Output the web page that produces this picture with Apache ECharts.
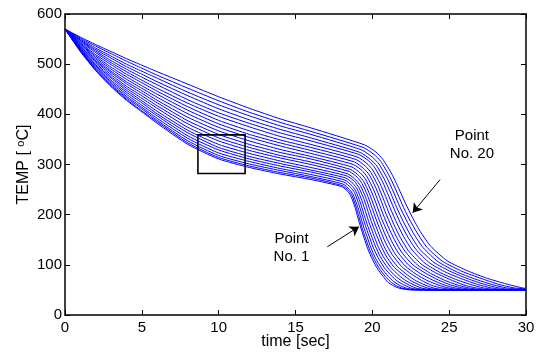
<!DOCTYPE html>
<html>
<head>
<meta charset="utf-8">
<script src="https://cdn.jsdelivr.net/npm/echarts@6/dist/echarts.min.js"></script>
<style>html,body{margin:0;padding:0;background:#fff;}#c{width:539px;height:355px;}</style>
</head>
<body>
<div id="c"></div>
<script>
// ---- data ----
const timeGrid = [0,1,2,3,4,5,6,8,10,12,14,16];
const earlyTemps = [
  [570,525,487,455,428,405,382,340,311,294,281,270],
  [570,526,488,457,430,407,385,343,314,297,284,273],
  [570,527,490,459,433,411,388,347,318,301,288,276],
  [570,528,492,462,436,414,392,352,323,306,292,280],
  [570,529,494,465,440,418,397,357,329,311,297,285],
  [570,531,497,468,444,423,401,363,334,316,302,289],
  [570,532,499,472,448,427,406,368,340,322,307,294],
  [570,533,502,475,452,432,412,374,347,328,313,300],
  [570,535,505,479,456,437,417,381,353,334,318,305],
  [570,536,507,483,461,442,423,387,360,340,324,311],
  [570,538,510,486,465,447,428,394,367,347,330,316],
  [570,540,513,490,470,452,434,401,374,354,337,322],
  [570,541,516,494,475,457,440,408,381,360,343,328],
  [570,543,519,499,480,463,446,415,388,367,349,334],
  [570,545,523,503,485,468,452,422,396,375,356,340],
  [570,547,526,507,490,474,459,429,403,382,363,347],
  [570,548,529,512,495,480,465,437,411,389,370,353],
  [570,550,532,516,500,486,472,444,419,397,377,360],
  [570,552,536,521,506,492,478,452,427,404,384,366],
  [570,554,539,525,511,498,485,460,435,412,391,373]
];
const kneeTimes = [18.00,18.04,18.09,18.15,18.21,18.28,18.36,18.43,18.51,18.59,18.67,18.76,18.84,18.93,19.02,19.12,19.21,19.31,19.40,19.50];
const kneeTemps = [256,258,261,265,269,273,277,281,286,290,295,300,305,310,315,320,324,329,334,339];
const dropTimes = [
  [18.41,18.63,18.87,19.06,19.25,19.47,19.70,19.98,20.36,20.70,20.99,21.39,21.79,22.50],
  [18.46,18.68,18.93,19.13,19.32,19.55,19.79,20.08,20.47,20.84,21.16,21.58,21.99,22.72],
  [18.52,18.75,19.01,19.22,19.42,19.66,19.91,20.21,20.63,21.03,21.38,21.83,22.27,23.01],
  [18.59,18.84,19.11,19.32,19.54,19.78,20.04,20.36,20.81,21.25,21.64,22.12,22.59,23.35],
  [18.67,18.92,19.21,19.43,19.66,19.91,20.19,20.52,21.00,21.48,21.91,22.43,22.92,23.71],
  [18.75,19.02,19.32,19.56,19.79,20.06,20.34,20.70,21.20,21.73,22.21,22.77,23.29,24.10],
  [18.85,19.12,19.44,19.69,19.94,20.21,20.52,20.89,21.43,22.01,22.53,23.13,23.68,24.52],
  [18.93,19.22,19.56,19.82,20.08,20.37,20.68,21.08,21.65,22.28,22.86,23.49,24.08,24.94],
  [19.03,19.33,19.68,19.96,20.23,20.53,20.86,21.28,21.89,22.57,23.20,23.87,24.49,25.38],
  [19.12,19.44,19.81,20.10,20.39,20.70,21.05,21.48,22.13,22.86,23.55,24.27,24.92,25.84],
  [19.22,19.55,19.94,20.25,20.54,20.87,21.24,21.69,22.38,23.16,23.90,24.67,25.36,26.31],
  [19.33,19.67,20.08,20.40,20.71,21.05,21.44,21.91,22.64,23.48,24.28,25.09,25.82,26.80],
  [19.43,19.79,20.22,20.55,20.87,21.23,21.63,22.13,22.89,23.79,24.65,25.51,26.27,27.28],
  [19.54,19.91,20.36,20.71,21.05,21.41,21.83,22.35,23.16,24.12,25.03,25.94,26.74,27.78],
  [19.65,20.03,20.50,20.87,21.22,21.60,22.04,22.58,23.43,24.45,25.42,26.38,27.22,28.29],
  [19.77,20.17,20.66,21.04,21.41,21.80,22.26,22.83,23.72,24.80,25.83,26.84,27.72,28.83],
  [19.88,20.29,20.81,21.21,21.59,22.00,22.47,23.06,24.00,25.14,26.24,27.30,28.22,29.36],
  [19.99,20.43,20.96,21.38,21.77,22.20,22.69,23.31,24.29,25.49,26.65,27.76,28.73],
  [20.11,20.55,21.11,21.54,21.95,22.39,22.91,23.55,24.57,25.84,27.07,28.23,29.24],
  [20.23,20.69,21.27,21.72,22.15,22.60,23.13,23.80,24.87,26.20,27.49,28.71,29.76]
];
const dropTemps = [
  [246,235,215,194,174,153,132,112,91,77,66,58,53,50],
  [248,238,217,196,175,154,133,113,92,77,67,58,53,50],
  [250,240,219,198,177,156,134,113,92,77,67,58,53,50],
  [254,244,222,201,179,158,136,115,93,78,67,59,53,50],
  [258,247,225,203,181,160,138,116,94,78,68,59,53,50],
  [262,251,228,206,184,162,139,117,95,79,68,59,53,50],
  [266,254,232,209,186,164,141,118,95,80,68,59,53,50],
  [269,258,235,212,189,166,142,119,96,80,68,59,53,50],
  [274,262,239,215,192,168,144,121,97,81,69,59,54,50],
  [278,266,242,218,194,170,146,122,98,81,69,60,54,50],
  [283,271,246,222,197,173,148,124,99,82,70,60,54,50],
  [288,275,250,225,200,175,150,125,100,83,70,60,54,50],
  [292,280,254,229,203,178,152,127,101,83,70,60,54,50],
  [297,284,258,232,206,180,154,128,102,84,71,60,54,50],
  [302,289,262,236,209,183,156,130,103,84,71,61,54,50],
  [307,293,266,239,212,185,158,131,104,85,72,61,54,50],
  [310,297,269,242,214,187,160,132,105,86,72,61,54,50],
  [315,301,273,245,217,190,162,134,106,86,72,61,54],
  [320,306,277,249,220,192,164,135,107,87,73,61,54],
  [325,310,281,252,223,195,166,137,108,88,73,62,54]
];
const endTime = 30;
const endTemps = [50,50,50,50,50,50,50,50,50,50,50,50,50,50,50,50,50,50,52,53];

const xTicks = {min: 0, max: 30, interval: 5};
const yTicks = {min: 0, max: 600, interval: 100};

// annotations (data coordinates)
const zoomBox = [[8.65, 359], [11.72, 282]];
const arrowNo1 = [[17.07, 136], [19.13, 176]];
const arrowNo20 = [[24.41, 270], [22.63, 204]];
const labelNo1 = [14.74, 134.5];
const labelNo20 = [26.48, 339];

// ---- chart ----
const FONT = '"Liberation Sans", Arial, Helvetica, sans-serif';
const chart = echarts.init(document.getElementById('c'), null, {renderer: 'canvas'});

const series = earlyTemps.map((row, i) => {
  const pts = timeGrid.map((t, j) => [t, row[j]]);
  pts.push([kneeTimes[i], kneeTemps[i]]);
  dropTimes[i].forEach((t, j) => pts.push([t, dropTemps[i][j]]));
  pts.push([endTime, endTemps[i]]);
  return {
    type: 'line',
    data: pts,
    showSymbol: false,
    smooth: 0.2,
    lineStyle: {color: '#0000ff', width: 1},
    itemStyle: {color: '#0000ff'},
    silent: true,
    z: 2
  };
});

const labelStyle = {show: true, position: 'inside', color: '#000', fontSize: 15, lineHeight: 18, fontFamily: FONT, align: 'center'};

series[series.length - 1].markArea = {
  silent: true, z: 10,
  itemStyle: {color: 'rgba(0,0,0,0)', borderColor: '#000', borderWidth: 1.6},
  data: [[{coord: zoomBox[0]}, {coord: zoomBox[1]}]]
};
series[series.length - 1].markLine = {
  silent: true, z: 10,
  symbol: ['none', 'arrow'], symbolSize: 9,
  lineStyle: {color: '#000', width: 1, type: 'solid'},
  itemStyle: {color: '#000'},
  label: {show: false},
  data: [
    [{coord: arrowNo1[0]}, {coord: arrowNo1[1]}],
    [{coord: arrowNo20[0]}, {coord: arrowNo20[1]}]
  ]
};
series[series.length - 1].markPoint = {
  silent: true, z: 10,
  symbol: 'circle', symbolSize: 0,
  itemStyle: {color: 'rgba(0,0,0,0)'},
  data: [
    {coord: labelNo1, label: Object.assign({}, labelStyle, {formatter: 'Point\nNo. 1'})},
    {coord: labelNo20, label: Object.assign({}, labelStyle, {formatter: 'Point\nNo. 20'})}
  ]
};

const axisLine = {show: true, onZero: false, lineStyle: {color: '#000', width: 1.5}};
const axisTick = {show: true, inside: true, length: 5, lineStyle: {color: '#000', width: 1}};

chart.setOption({
  animation: false,
  backgroundColor: '#fff',
  grid: {left: 65, right: 13, top: 14, bottom: 40, containLabel: false},
  xAxis: [
    {type: 'value', position: 'bottom', min: xTicks.min, max: xTicks.max, interval: xTicks.interval,
     axisLine, axisTick, splitLine: {show: false},
     axisLabel: {color: '#000', fontSize: 15, fontFamily: FONT, margin: 5},
     name: 'time [sec]', nameLocation: 'middle', nameGap: 19, nameMoveOverlap: false,
     nameTextStyle: {color: '#000', fontSize: 16, fontFamily: FONT}},
    {type: 'value', position: 'top', min: xTicks.min, max: xTicks.max, interval: xTicks.interval,
     axisLine, axisTick, splitLine: {show: false}, axisLabel: {show: false}}
  ],
  yAxis: [
    {type: 'value', position: 'left', min: yTicks.min, max: yTicks.max, interval: yTicks.interval,
     axisLine, axisTick, splitLine: {show: false},
     axisLabel: {color: '#000', fontSize: 15, fontFamily: FONT, margin: 3},
     name: 'TEMP [ {s|o}C]', nameLocation: 'middle', nameGap: 32, nameRotate: 90, nameMoveOverlap: false,
     nameTextStyle: {color: '#000', fontSize: 16, fontFamily: FONT,
       rich: {s: {fontSize: 11, fontFamily: FONT, color: '#000', verticalAlign: 'top', padding: [0, 0, 7, 0]}}}},
    {type: 'value', position: 'right', min: yTicks.min, max: yTicks.max, interval: yTicks.interval,
     axisLine, axisTick, splitLine: {show: false}, axisLabel: {show: false}}
  ],
  series
});
</script>
</body>
</html>
